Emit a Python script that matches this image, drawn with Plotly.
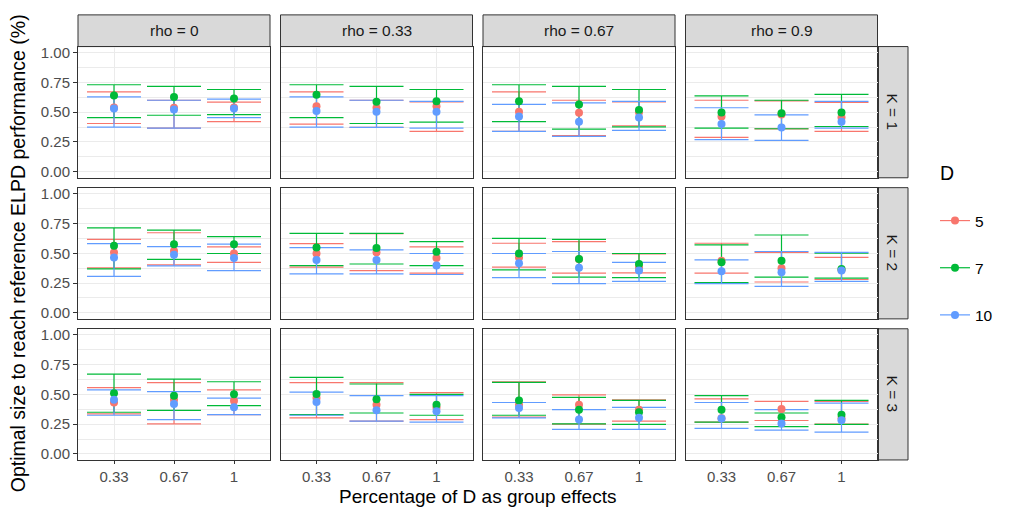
import plotly.graph_objects as go

# ---------------- data ----------------
pct_labels = ["0.33", "0.67", "1"]
rho_labels = ["rho = 0", "rho = 0.33", "rho = 0.67", "rho = 0.9"]
k_labels = ["K = 1", "K = 2", "K = 3"]
d_levels = ["5", "7", "10"]

# one triple per panel (x = 0.33, 0.67, 1); panels ordered K=1 (rho 0,.33,.67,.9), K=2, K=3
mid_d5 = [
    [0.54, 0.537, 0.54], [0.55, 0.537, 0.55], [0.504, 0.496, 0.50], [0.463, 0.48, 0.455],
    [0.507, 0.52, 0.498], [0.498, 0.507, 0.46], [0.465, 0.45, 0.38], [0.438, 0.375, 0.36],
    [0.432, 0.455, 0.446], [0.47, 0.413, 0.39], [0.413, 0.413, 0.372], [0.30, 0.377, 0.30],
]
low_d5 = [
    [0.405, 0.366, 0.42], [0.40, 0.372, 0.339], [0.339, 0.303, 0.386], [0.289, 0.36, 0.339],
    [0.378, 0.402, 0.424], [0.383, 0.355, 0.333], [0.383, 0.333, 0.336], [0.333, 0.259, 0.28],
    [0.336, 0.253, 0.33], [0.303, 0.275, 0.289], [0.31, 0.25, 0.275], [0.267, 0.281, 0.25],
]
high_d5 = [
    [0.67, 0.60, 0.584], [0.67, 0.60, 0.587], [0.67, 0.60, 0.587], [0.60, 0.595, 0.581],
    [0.617, 0.672, 0.554], [0.581, 0.665, 0.554], [0.584, 0.598, 0.495], [0.584, 0.507, 0.465],
    [0.556, 0.598, 0.537], [0.598, 0.598, 0.515], [0.606, 0.496, 0.455], [0.463, 0.441, 0.441],
]
mid_d7 = [
    [0.64, 0.628, 0.614], [0.647, 0.587, 0.592], [0.592, 0.565, 0.518], [0.498, 0.49, 0.498],
    [0.562, 0.576, 0.576], [0.548, 0.545, 0.512], [0.498, 0.452, 0.41], [0.424, 0.438, 0.369],
    [0.51, 0.488, 0.501], [0.504, 0.46, 0.413], [0.449, 0.372, 0.35], [0.372, 0.308, 0.33],
]
low_d7 = [
    [0.455, 0.474, 0.48], [0.455, 0.405, 0.416], [0.42, 0.358, 0.377], [0.366, 0.361, 0.38],
    [0.369, 0.449, 0.498], [0.397, 0.41, 0.397], [0.361, 0.30, 0.295], [0.254, 0.30, 0.292],
    [0.35, 0.366, 0.405], [0.33, 0.344, 0.325], [0.325, 0.253, 0.248], [0.267, 0.229, 0.248],
]
high_d7 = [
    [0.73, 0.716, 0.69], [0.73, 0.716, 0.69], [0.73, 0.716, 0.69], [0.636, 0.60, 0.65],
    [0.713, 0.694, 0.639], [0.667, 0.667, 0.598], [0.625, 0.617, 0.498], [0.57, 0.653, 0.50],
    [0.669, 0.628, 0.606], [0.642, 0.587, 0.50], [0.60, 0.474, 0.449], [0.49, 0.344, 0.449],
]
mid_d10 = [
    [0.53, 0.523, 0.53], [0.51, 0.504, 0.504], [0.463, 0.42, 0.455], [0.40, 0.372, 0.42],
    [0.465, 0.488, 0.46], [0.444, 0.444, 0.397], [0.416, 0.378, 0.355], [0.35, 0.341, 0.355],
    [0.455, 0.419, 0.391], [0.435, 0.366, 0.358], [0.386, 0.289, 0.303], [0.298, 0.256, 0.284],
]
low_d10 = [
    [0.375, 0.366, 0.455], [0.375, 0.372, 0.366], [0.339, 0.297, 0.347], [0.27, 0.264, 0.366],
    [0.306, 0.394, 0.355], [0.328, 0.328, 0.322], [0.295, 0.245, 0.264], [0.245, 0.223, 0.264],
    [0.325, 0.289, 0.33], [0.325, 0.275, 0.267], [0.303, 0.207, 0.207], [0.215, 0.201, 0.184],
]
high_d10 = [
    [0.628, 0.60, 0.609], [0.628, 0.60, 0.59], [0.565, 0.578, 0.59], [0.537, 0.477, 0.59],
    [0.581, 0.556, 0.576], [0.548, 0.529, 0.498], [0.498, 0.515, 0.424], [0.444, 0.515, 0.507],
    [0.537, 0.523, 0.468], [0.518, 0.49, 0.49], [0.432, 0.372, 0.391], [0.432, 0.372, 0.427],
]

series = [
    ("5", "#F8766D", mid_d5, low_d5, high_d5),
    ("7", "#00BA38", mid_d7, low_d7, high_d7),
    ("10", "#619CFF", mid_d10, low_d10, high_d10),
]

# ---------------- layout geometry (pixels) ----------------
W, H = 1021, 509
col_px = [(78, 270), (280.5, 472.5), (483, 675), (685.5, 877.5)]
row_px = [(44, 176.5), (186.5, 319), (329, 461.5)]
strip_top = (12, 44)
strip_right = (877.5, 908)


def fx(p):
    return p / W


def fy(p):
    return 1 - p / H


FONT = "Liberation Sans, Arial, sans-serif"
TICK_FONT = dict(family=FONT, size=15, color="#4D4D4D")
x_pos = [1, 2, 3]

fig = go.Figure()
layout = {}

for r in range(3):
    for c in range(4):
        p = r * 4 + c
        n = p + 1
        xname = "x" if n == 1 else f"x{n}"
        yname = "y" if n == 1 else f"y{n}"
        xkey = "xaxis" if n == 1 else f"xaxis{n}"
        ykey = "yaxis" if n == 1 else f"yaxis{n}"
        layout[xkey] = dict(
            domain=[fx(col_px[c][0]), fx(col_px[c][1])], anchor=yname,
            range=[0.4, 3.6], tickvals=x_pos, ticktext=pct_labels,
            showticklabels=(r == 2), ticks="outside" if r == 2 else "",
            ticklen=3, tickcolor="#333333", tickwidth=1,
            tickfont=TICK_FONT, showgrid=True, gridcolor="#EBEBEB", gridwidth=1.1,
            zeroline=False, showline=True, mirror=True, linecolor="#333333", linewidth=1,
            fixedrange=True,
        )
        layout[ykey] = dict(
            domain=[fy(row_px[r][1]), fy(row_px[r][0])], anchor=xname,
            range=[-0.05, 1.05], tickvals=[0, 0.25, 0.5, 0.75, 1.0],
            ticktext=["0.00", "0.25", "0.50", "0.75", "1.00"],
            showticklabels=(c == 0), ticks="outside" if c == 0 else "",
            ticklen=4, tickcolor="#333333", tickwidth=1,
            tickfont=TICK_FONT, showgrid=True, gridcolor="#EBEBEB", gridwidth=1.1,
            minor=dict(tickvals=[0.125, 0.375, 0.625, 0.875], showgrid=True,
                       gridcolor="#EBEBEB", gridwidth=0.55, ticks=""),
            zeroline=False, showline=True, mirror=True, linecolor="#333333", linewidth=1,
            fixedrange=True,
        )
        # error bars first
        for name, col, mid, lo, hi in series:
            m = mid[p]
            fig.add_trace(go.Scatter(
                x=x_pos, y=m, mode="markers", xaxis=xname, yaxis=yname,
                marker=dict(size=0.1, color=col, opacity=0),
                error_y=dict(type="data", symmetric=False,
                             array=[h - v for h, v in zip(hi[p], m)],
                             arrayminus=[v - l for v, l in zip(m, lo[p])],
                             width=27, thickness=1.2, color=col),
                showlegend=False, hoverinfo="skip",
            ))
        # points on top
        for name, col, mid, lo, hi in series:
            fig.add_trace(go.Scatter(
                x=x_pos, y=mid[p], mode="markers", xaxis=xname, yaxis=yname,
                marker=dict(size=8, color=col, line=dict(width=0)),
                showlegend=False, name=name,
            ))

# legend-only traces
for i, (name, col, mid, lo, hi) in enumerate(series):
    fig.add_trace(go.Scatter(
        x=[None], y=[None], mode="lines+markers", name=name, legendgroup=f"g{i}",
        line=dict(color=col, width=1.2), marker=dict(size=8, color=col),
        showlegend=True,
    ))

shapes = []
annotations = []
for c in range(4):
    shapes.append(dict(type="rect", xref="paper", yref="paper",
                       x0=fx(col_px[c][0]), x1=fx(col_px[c][1]),
                       y0=fy(strip_top[1]), y1=fy(strip_top[0]),
                       fillcolor="#D9D9D9", line=dict(color="#333333", width=1), layer="below"))
    annotations.append(dict(text=rho_labels[c], xref="paper", yref="paper",
                            x=fx((col_px[c][0] + col_px[c][1]) / 2),
                            y=fy((strip_top[0] + strip_top[1]) / 2),
                            showarrow=False, font=dict(family=FONT, size=15.5, color="#1A1A1A"),
                            xanchor="center", yanchor="middle"))
for r in range(3):
    shapes.append(dict(type="rect", xref="paper", yref="paper",
                       x0=fx(strip_right[0]), x1=fx(strip_right[1]),
                       y0=fy(row_px[r][1]), y1=fy(row_px[r][0]),
                       fillcolor="#D9D9D9", line=dict(color="#333333", width=1), layer="below"))
    annotations.append(dict(text=k_labels[r], xref="paper", yref="paper",
                            x=fx((strip_right[0] + strip_right[1]) / 2),
                            y=fy((row_px[r][0] + row_px[r][1]) / 2),
                            showarrow=False, textangle=90,
                            font=dict(family=FONT, size=15.5, color="#1A1A1A"),
                            xanchor="center", yanchor="middle"))

annotations.append(dict(text="Percentage of D as group effects", xref="paper", yref="paper",
                        x=fx((col_px[0][0] + col_px[3][1]) / 2), y=fy(498.5),
                        showarrow=False, font=dict(family=FONT, size=19, color="#000000"),
                        xanchor="center", yanchor="middle"))
annotations.append(dict(text="Optimal size to reach reference ELPD performance (%)",
                        xref="paper", yref="paper",
                        x=fx(18), y=fy((row_px[0][0] + row_px[2][1]) / 2),
                        showarrow=False, textangle=-90,
                        font=dict(family=FONT, size=19.5, color="#000000"),
                        xanchor="center", yanchor="middle"))
# legend title
annotations.append(dict(text="D", xref="paper", yref="paper",
                        x=fx(938), y=fy(172), showarrow=False,
                        font=dict(family=FONT, size=19.5, color="#000000"),
                        xanchor="left", yanchor="middle"))

fig.update_layout(
    **layout,
    width=W, height=H,
    margin=dict(l=0, r=0, t=0, b=0),
    paper_bgcolor="white", plot_bgcolor="white",
    shapes=shapes, annotations=annotations,
    showlegend=True,
    legend=dict(
        x=fx(935), y=fy(203), xanchor="left", yanchor="top",
        font=dict(family=FONT, size=15.5, color="#000000"),
        tracegroupgap=24, itemwidth=30, bgcolor="rgba(0,0,0,0)",
    ),
)

fig.write_html("out.html")
